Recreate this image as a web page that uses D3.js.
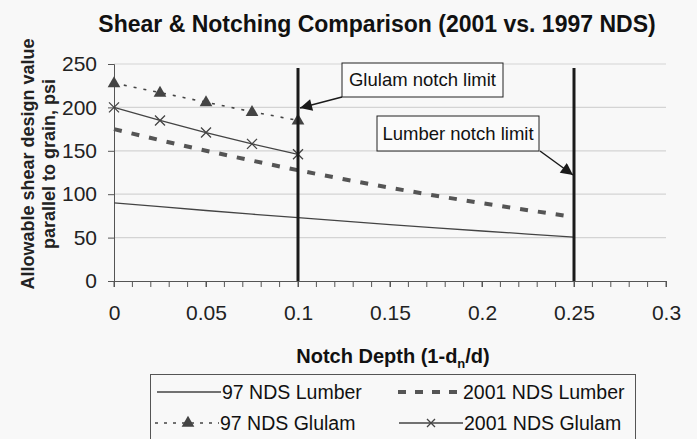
<!DOCTYPE html>
<html>
<head>
<meta charset="utf-8">
<script src="https://d3js.org/d3.v7.min.js"></script>
<style>
  body { margin: 0; background: #f8f8f8; }
  svg { display: block; font-family: Arial, "Liberation Sans", sans-serif; }
</style>
</head>
<body>
<div id="plot"></div>
<script>
// notch depth values (1 - dn/d)
var depthLumber = [0, 0.025, 0.05, 0.075, 0.1, 0.125, 0.15, 0.175, 0.2, 0.225, 0.25];
var depthGlulam = [0, 0.025, 0.05, 0.075, 0.1];

// allowable shear values, psi
var lumber97 = [90, 85.6, 81.2, 77.0, 72.9, 68.9, 65.0, 61.3, 57.6, 54.1, 50.6];
var lumber2001 = [175, 162.2, 150.1, 138.7, 127.6, 117.2, 107.4, 98.2, 89.6, 81.6, 73.8];
var glulam97 = [228, 217, 206, 195, 185];
var glulam2001 = [200, 185, 171, 158, 146];

var notchLimits = [0.1, 0.25];
var xTicks = [0, 0.05, 0.1, 0.15, 0.2, 0.25, 0.3];
var yTicks = [0, 50, 100, 150, 200, 250];

var width = 697, height = 439;
var margin = {top: 64, right: 31, bottom: 158, left: 114};
var w = width - margin.left - margin.right;
var h = height - margin.top - margin.bottom;

var svg = d3.select("#plot").append("svg")
    .attr("width", width)
    .attr("height", height);

var defs = svg.append("defs");
defs.append("marker")
    .attr("id", "arrow")
    .attr("viewBox", "0 0 10 10")
    .attr("refX", 10).attr("refY", 5)
    .attr("markerWidth", 16).attr("markerHeight", 12)
    .attr("markerUnits", "userSpaceOnUse")
    .attr("orient", "auto")
  .append("path")
    .attr("d", "M0,0 L10,5 L0,10 z")
    .attr("fill", "#1a1a1a");

var g = svg.append("g")
    .attr("transform", "translate(" + margin.left + "," + margin.top + ")");

var x = d3.scaleLinear().domain([0, 0.3]).range([0, w]);
var y = d3.scaleLinear().domain([0, 250]).range([h, 0]);

// gridlines
g.selectAll(".grid")
    .data(yTicks.filter(d => d > 0))
    .enter().append("line")
    .attr("x1", 0).attr("x2", w)
    .attr("y1", d => y(d)).attr("y2", d => y(d))
    .attr("stroke", "#d4d4d4")
    .attr("stroke-width", 1.2);

// minor x ticks every 0.01
var minorTicks = d3.range(0, 31).map(i => i / 100);
g.selectAll(".minor")
    .data(minorTicks)
    .enter().append("line")
    .attr("x1", d => x(d)).attr("x2", d => x(d))
    .attr("y1", h).attr("y2", h + 6)
    .attr("stroke", "#555");

// x axis
var xAxis = g.append("g")
    .attr("transform", "translate(0," + h + ")")
    .call(d3.axisBottom(x).tickValues(xTicks).tickSize(6).tickPadding(18)
      .tickFormat(d => d3.format("~g")(d)));
xAxis.select(".domain").attr("stroke", "#555");
xAxis.selectAll(".tick line").attr("stroke", "#555");
xAxis.selectAll("text").attr("font-size", 21).attr("fill", "#222");

// y axis
var yAxis = g.append("g")
    .call(d3.axisLeft(y).tickValues(yTicks).tickSize(6).tickPadding(11));
yAxis.select(".domain").attr("stroke", "#555");
yAxis.selectAll(".tick line").attr("stroke", "#555");
yAxis.selectAll("text").attr("font-size", 21).attr("fill", "#222");

var line = d3.line().x(d => x(d[0])).y(d => y(d[1]));

// 97 NDS Lumber
g.append("path")
    .datum(d3.zip(depthLumber, lumber97))
    .attr("d", line)
    .attr("fill", "none")
    .attr("stroke", "#444")
    .attr("stroke-width", 1.3);

// 2001 NDS Lumber
g.append("path")
    .datum(d3.zip(depthLumber, lumber2001))
    .attr("d", line)
    .attr("fill", "none")
    .attr("stroke", "#555")
    .attr("stroke-width", 4)
    .attr("stroke-dasharray", "8,10");

// 97 NDS Glulam
g.append("path")
    .datum(d3.zip(depthGlulam, glulam97))
    .attr("d", line)
    .attr("fill", "none")
    .attr("stroke", "#444")
    .attr("stroke-width", 1.6)
    .attr("stroke-dasharray", "3,7");

g.selectAll(".tri")
    .data(d3.zip(depthGlulam, glulam97))
    .enter().append("path")
    .attr("d", d3.symbol().type(d3.symbolTriangle).size(70))
    .attr("transform", d => "translate(" + x(d[0]) + "," + (y(d[1]) + 0.5) + ")")
    .attr("fill", "#444");

// 2001 NDS Glulam
g.append("path")
    .datum(d3.zip(depthGlulam, glulam2001))
    .attr("d", line)
    .attr("fill", "none")
    .attr("stroke", "#444")
    .attr("stroke-width", 1.3);

g.selectAll(".cross")
    .data(d3.zip(depthGlulam, glulam2001))
    .enter().append("path")
    .attr("d", "M-5,-5L5,5M-5,5L5,-5")
    .attr("transform", d => "translate(" + x(d[0]) + "," + y(d[1]) + ")")
    .attr("stroke", "#444")
    .attr("stroke-width", 1.3);

// notch limit lines
g.selectAll(".limit")
    .data(notchLimits)
    .enter().append("line")
    .attr("x1", d => x(d)).attr("x2", d => x(d))
    .attr("y1", 4).attr("y2", h)
    .attr("stroke", "#1a1a1a")
    .attr("stroke-width", 3);

// callouts
function callout(label, bx, by, bw, bh, ax0, ay0, tx, ty) {
  svg.append("rect")
      .attr("x", bx).attr("y", by)
      .attr("width", bw).attr("height", bh)
      .attr("fill", "#fbfbfb")
      .attr("stroke", "#222")
      .attr("stroke-width", 1);
  svg.append("text")
      .attr("x", bx + bw / 2).attr("y", by + bh / 2)
      .attr("dy", "0.35em")
      .attr("text-anchor", "middle")
      .attr("font-size", 18.5)
      .attr("fill", "#111")
      .text(label);
  svg.append("line")
      .attr("x1", ax0).attr("y1", ay0)
      .attr("x2", tx).attr("y2", ty)
      .attr("stroke", "#1a1a1a")
      .attr("stroke-width", 1.5)
      .attr("marker-end", "url(#arrow)");
}
callout("Glulam notch limit", 342, 63, 161, 34, 342, 97,
        margin.left + x(notchLimits[0]) + 2, 108);
callout("Lumber notch limit", 377, 116, 162, 35, 540, 151,
        margin.left + x(notchLimits[1]) - 1, 175);

// title
svg.append("text")
    .attr("x", 377).attr("y", 32)
    .attr("text-anchor", "middle")
    .attr("font-size", 23)
    .attr("font-weight", "bold")
    .attr("fill", "#111")
    .text("Shear & Notching Comparison (2001 vs. 1997 NDS)");

// y title
var yt = svg.append("text")
    .attr("transform", "translate(28,164) rotate(-90)")
    .attr("text-anchor", "middle")
    .attr("font-size", 18)
    .attr("font-weight", "bold")
    .attr("fill", "#222");
yt.append("tspan").attr("x", 0).attr("dy", "0.35em").text("Allowable shear design value");
yt.append("tspan").attr("x", 0).attr("dy", 21).text("parallel to grain, psi");

// x title
var xt = svg.append("text")
    .attr("x", 393).attr("y", 363)
    .attr("text-anchor", "middle")
    .attr("font-size", 20)
    .attr("font-weight", "bold")
    .attr("fill", "#111");
xt.append("tspan").text("Notch Depth (1-d");
xt.append("tspan").attr("font-size", 13).attr("dy", 5).text("n");
xt.append("tspan").attr("dy", -5).text("/d)");

// legend
svg.append("rect")
    .attr("x", 150.5).attr("y", 374.5)
    .attr("width", 485).attr("height", 80)
    .attr("fill", "#f8f8f8")
    .attr("stroke", "#555");

var legendItems = [
  {name: "97 NDS Lumber", x: 157, y: 392, dash: null, width: 1.3, marker: null},
  {name: "2001 NDS Lumber", x: 398, y: 392, dash: "8,9", width: 4, marker: null},
  {name: "97 NDS Glulam", x: 155, y: 423, dash: "3,6", width: 1.6, marker: "tri"},
  {name: "2001 NDS Glulam", x: 399, y: 423, dash: null, width: 1.3, marker: "cross"}
];

var leg = svg.selectAll(".legend")
    .data(legendItems)
    .enter().append("g")
    .attr("transform", d => "translate(" + d.x + "," + d.y + ")");

leg.append("line")
    .attr("x1", 0).attr("x2", 64)
    .attr("stroke", d => d.width > 3 ? "#555" : "#444")
    .attr("stroke-width", d => d.width)
    .attr("stroke-dasharray", d => d.dash);

leg.filter(d => d.marker === "tri").append("path")
    .attr("d", d3.symbol().type(d3.symbolTriangle).size(70))
    .attr("transform", "translate(33,0)")
    .attr("fill", "#444");

leg.filter(d => d.marker === "cross").append("path")
    .attr("d", "M-4,-4L4,4M-4,4L4,-4")
    .attr("transform", "translate(32,0)")
    .attr("stroke", "#444")
    .attr("stroke-width", 1.3);

leg.append("text")
    .attr("x", 65)
    .attr("dy", "0.35em")
    .attr("font-size", 19.5)
    .attr("fill", "#111")
    .text(d => d.name);
</script>
</body>
</html>
